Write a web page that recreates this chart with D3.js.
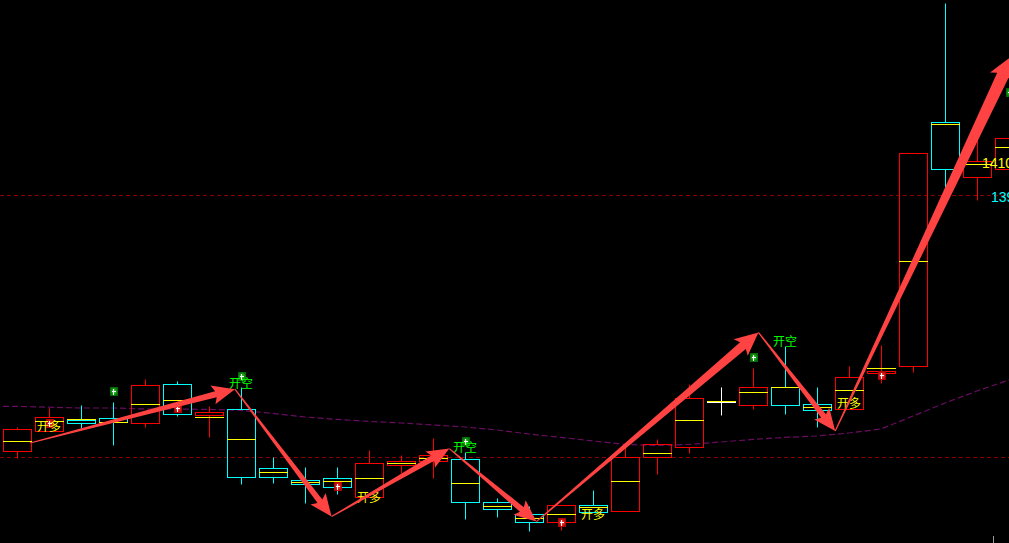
<!DOCTYPE html>
<html>
<head>
<meta charset="utf-8">
<script src="https://cdn.jsdelivr.net/npm/d3@7"></script>
<style>
  html, body { margin: 0; padding: 0; background: #000; overflow: hidden; }
  svg { display: block; }
</style>
</head>
<body>
<svg id="chart"></svg>
<script>
const opens  = [12667, 12767, 12819, 12829, 12804, 12999, 12844, 12874, 12579, 12520, 12530, 12434, 12594, 12615, 12624, 12409, 12349, 12309, 12394, 12364, 12634, 12687, 12912, 12897, 12984, 12899, 12877, 13055, 13090, 14309, 14034, 14074];
const highs  = [12787, 12882, 12895, 12909, 13024, 13015, 12890, 12984, 12634, 12584, 12584, 12670, 12645, 12729, 12662, 12429, 12390, 12394, 12470, 12684, 12725, 13000, 12985, 13080, 13192, 12984, 13090, 13194, 14154, 14904, 14229, 14405];
const lows   = [12632, 12767, 12779, 12695, 12784, 12842, 12737, 12499, 12507, 12407, 12449, 12434, 12554, 12529, 12327, 12337, 12267, 12270, 12362, 12364, 12550, 12657, 12847, 12877, 12852, 12787, 12877, 13004, 13062, 13905, 13920, 14074];
const closes = [12774, 12834, 12807, 12809, 12994, 12849, 12859, 12534, 12537, 12502, 12487, 12604, 12615, 12644, 12409, 12374, 12309, 12394, 12362, 12634, 12699, 12929, 12912, 12984, 12897, 12869, 13034, 13065, 14154, 14074, 14114, 14230];
const avgs   = [12714, 12815, 12824, 12809, 12899, 12922, 12834, 12724, 12562, 12509, 12515, 12529, 12604, 12632, 12504, 12390, 12330, 12349, 12387, 12514, 12654, 12819, 12914, 12959, 12984, 12884, 12969, 13079, 13614, 14299, 14099, 14185];

// moving average, first value sits one bar before the first candle
const maValues = [12888, 12888, 12884, 12880, 12880, 12875, 12875, 12873, 12868, 12853, 12835, 12823, 12813, 12805, 12795, 12785, 12770, 12750, 12733, 12715, 12698, 12693, 12698, 12710, 12723, 12733, 12740, 12755, 12775, 12840, 12905, 12965, 13020];

const buyIdx  = [1, 5, 10, 17, 27];
const sellIdx = [3, 7, 14, 23, 31];

const longIdx    = [1, 11, 18, 26];
const longPrice  = [12795, 12440, 12355, 12908];
const shortIdx   = [7, 14, 24];
const shortPrice = [13008, 12690, 13219];

const pivotIdx   = [0.41, 6.81, 9.83, 13.51, 16.23, 23.17, 25.57, 31.09];
const pivotPrice = [12705, 12974, 12337, 12677, 12312, 13258, 12765, 14640];

const refLines = [13945, 12635];
const tagValues = [14105, 13935];
const tagLabels = ["14105", "13935"];

const width = 1009, height = 543;

const x = d3.scaleLinear().domain([0, 31]).range([17, 1009]);
const y = d3.scaleLinear().domain([12205, 14920]).range([height, 0]);
const sy = v => Math.round(y(v)) + 0.5;
const cx = i => Math.round(x(i));

const svg = d3.select("#chart")
    .attr("width", width)
    .attr("height", height)
    .style("background", "#000");

const defs = svg.append("defs");
const grad = (id, inner, outer) => {
    const g = defs.append("radialGradient").attr("id", id);
    g.append("stop").attr("offset", "0%").attr("stop-color", inner);
    g.append("stop").attr("offset", "100%").attr("stop-color", outer);
};
grad("gBuy", "#ff4a4a", "#b00000");
grad("gSell", "#3fd83f", "#006a00");

// reference dashed lines
svg.append("g")
    .selectAll("line")
    .data(refLines)
    .join("line")
    .attr("x1", 0).attr("x2", width)
    .attr("y1", d => sy(d)).attr("y2", d => sy(d))
    .attr("stroke", "#8a0000")
    .attr("stroke-dasharray", "4,3");

// moving average
const maLine = d3.line()
    .x((d, i) => x(i - 1))
    .y(d => y(d));
svg.append("path")
    .attr("d", maLine(maValues))
    .attr("fill", "none")
    .attr("stroke", "#6a0c62")
    .attr("stroke-width", 1.2)
    .attr("stroke-dasharray", "6,3");

// candles
const candles = d3.range(opens.length).map(i => ({
    i, o: opens[i], h: highs[i], l: lows[i], c: closes[i], a: avgs[i]
}));
const colorOf = d => d.c > d.o ? "#ff0000" : d.c < d.o ? "#00ffff" : "#ffffff";

const cg = svg.append("g");
candles.forEach(d => {
    const col = colorOf(d);
    const xc = cx(d.i) + 0.5;
    const top = sy(Math.max(d.o, d.c)), bot = sy(Math.min(d.o, d.c));
    const left = cx(d.i) - 14 + 0.5;
    if (sy(d.h) < top) {
        cg.append("line").attr("x1", xc).attr("x2", xc)
            .attr("y1", sy(d.h)).attr("y2", top).attr("stroke", col);
    }
    if (sy(d.l) > bot) {
        cg.append("line").attr("x1", xc).attr("x2", xc)
            .attr("y1", bot).attr("y2", sy(d.l)).attr("stroke", col);
    }
    if (bot > top) {
        cg.append("rect")
            .attr("x", left).attr("y", top)
            .attr("width", 28).attr("height", bot - top)
            .attr("fill", "none").attr("stroke", col);
    } else {
        cg.append("line").attr("x1", left - 0.5).attr("x2", left + 28.5)
            .attr("y1", top).attr("y2", top).attr("stroke", col);
    }
    cg.append("line")
        .attr("x1", left - 0.5).attr("x2", left + 28.5)
        .attr("y1", sy(d.a)).attr("y2", sy(d.a))
        .attr("stroke", "#ffff00");
});

// signal markers
const marker = (i, cy, id) => {
    const g = svg.append("g");
    const xc = cx(i);
    g.append("rect")
        .attr("x", xc - 3).attr("y", Math.round(cy) - 4)
        .attr("width", 8).attr("height", 9)
        .attr("fill", `url(#${id})`);
    g.append("line")
        .attr("x1", xc + 0.5).attr("x2", xc + 0.5)
        .attr("y1", Math.round(cy) - 2).attr("y2", Math.round(cy) + 4)
        .attr("stroke", "#fff");
    g.append("line")
        .attr("x1", xc - 1).attr("x2", xc + 3)
        .attr("y1", Math.round(cy) + 0.5).attr("y2", Math.round(cy) + 0.5)
        .attr("stroke", "#fff");
};
buyIdx.forEach(i => marker(i, y(lows[i]) - 8, "gBuy"));
sellIdx.forEach(i => marker(i, y(highs[i]) - 11, "gSell"));

// text signals
const labelFont = '"Noto Sans CJK SC", "Noto Sans", sans-serif';
longIdx.forEach((i, k) => {
    svg.append("text")
        .attr("x", x(i)).attr("y", y(longPrice[k]))
        .attr("text-anchor", "middle")
        .attr("dominant-baseline", "central")
        .attr("font-family", labelFont)
        .attr("font-size", 12)
        .attr("fill", "#ffff00")
        .text("开多");
});
shortIdx.forEach((i, k) => {
    svg.append("text")
        .attr("x", x(i)).attr("y", y(shortPrice[k]))
        .attr("text-anchor", "middle")
        .attr("dominant-baseline", "central")
        .attr("font-family", labelFont)
        .attr("font-size", 12)
        .attr("fill", "#00ff00")
        .text("开空");
});

// zigzag arrows, shaft widens with length
const arrowPath = (x0, y0, x1, y1) => {
    const dx = x1 - x0, dy = y1 - y0;
    const len = Math.hypot(dx, dy);
    const ux = dx / len, uy = dy / len;
    const nx = -uy, ny = ux;
    const sw = Math.max(3, len * 0.015);
    const hw = sw + 6.5, hl = 18 + len * 0.008, tw = 0.6;
    const bx = x1 - ux * hl, by = y1 - uy * hl;
    const cbx = x1 - ux * (hl + 3), cby = y1 - uy * (hl + 3);
    const pts = [
        [x0 + nx * tw, y0 + ny * tw],
        [bx + nx * sw, by + ny * sw],
        [cbx + nx * hw, cby + ny * hw],
        [x1, y1],
        [cbx - nx * hw, cby - ny * hw],
        [bx - nx * sw, by - ny * sw],
        [x0 - nx * tw, y0 - ny * tw]
    ];
    return "M" + pts.map(p => p.join(",")).join("L") + "Z";
};
const ag = svg.append("g");
for (let k = 0; k < pivotIdx.length - 1; k++) {
    ag.append("path")
        .attr("d", arrowPath(x(pivotIdx[k]), y(pivotPrice[k]), x(pivotIdx[k + 1]), y(pivotPrice[k + 1])))
        .attr("fill", "#ff4242");
}

// price tags at the right edge
const tagFont = '"Liberation Sans Narrow", "Liberation Sans", sans-serif';
svg.append("text")
    .attr("x", width - 27).attr("y", y(tagValues[0]))
    .attr("dominant-baseline", "central")
    .attr("font-family", tagFont).attr("font-size", 14)
    .attr("fill", "#ffff00")
    .text(tagLabels[0]);
svg.append("text")
    .attr("x", width - 18).attr("y", y(tagValues[1]))
    .attr("dominant-baseline", "central")
    .attr("font-family", tagFont).attr("font-size", 14)
    .attr("fill", "#00ffff")
    .text(tagLabels[1]);

// small separator tick at the bottom
svg.append("line")
    .attr("x1", cx(30.5) + 0.5).attr("x2", cx(30.5) + 0.5)
    .attr("y1", height - 7).attr("y2", height)
    .attr("stroke", "#9a9a9a");
</script>
</body>
</html>
